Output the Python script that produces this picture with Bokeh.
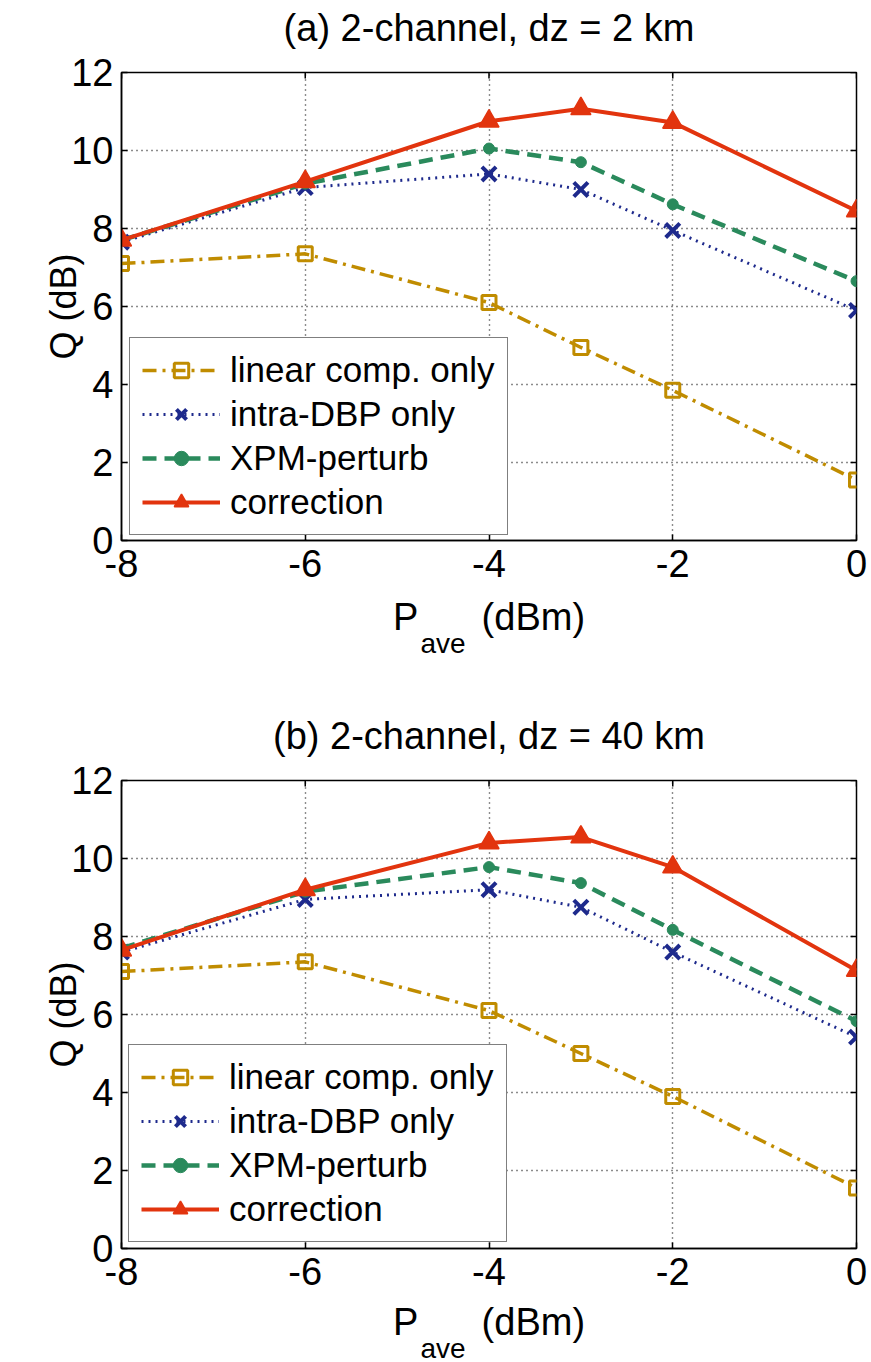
import math

from bokeh.plotting import figure
from bokeh.layouts import column
from bokeh.models import Range1d, FixedTicker, Legend, LegendItem, Title
from bokeh.embed import file_html
from bokeh.resources import INLINE

# launch power P_ave (dBm)
p_ave = [-8, -6, -4, -3, -2, 0]

# (a) 2-channel, dz = 2 km : Q (dB)
a_linear = [7.1, 7.35, 6.1, 4.95, 3.85, 1.55]
a_intra = [7.65, 9.05, 9.4, 9.0, 7.95, 5.9]
a_xpm = [7.7, 9.15, 10.05, 9.7, 8.62, 6.65]
a_corr = [7.7, 9.2, 10.75, 11.07, 10.72, 8.45]

# (b) 2-channel, dz = 40 km : Q (dB)
b_linear = [7.1, 7.35, 6.1, 5.0, 3.9, 1.55]
b_intra = [7.6, 8.95, 9.2, 8.75, 7.6, 5.42]
b_xpm = [7.7, 9.15, 9.78, 9.37, 8.17, 5.83]
b_corr = [7.65, 9.2, 10.4, 10.55, 9.78, 7.13]

x_ticks = [-8, -6, -4, -2, 0]
y_ticks = [0, 2, 4, 6, 8, 10, 12]

series_names = ["linear comp. only", "intra-DBP only", "XPM-perturb", "correction"]

FONT = "Liberation Sans"
GOLD = "#C08C00"
NAVY = "#1E2A8C"
GREEN = "#2A8A5C"
RED = "#E2340E"
NBSP = "\u00a0"


def text_title(text, size, standoff, align="center", offset=0):
    return Title(text=text, align=align, offset=offset, text_font=FONT,
                 text_font_size=size, text_font_style="normal",
                 text_color="black", standoff=standoff)


def make_panel(title, linear, intra, xpm, corr, height, border_bottom,
               legend_loc, xlabel_standoff):
    p = figure(width=871, height=height,
               x_range=Range1d(-8, 0), y_range=Range1d(0, 12),
               output_backend="svg", toolbar_location=None,
               title_location=None,
               min_border_left=121, min_border_right=15,
               min_border_top=72, min_border_bottom=border_bottom)
    # panel heading, lifted away from the box by a blank spacer line
    p.add_layout(text_title(NBSP, "10px", 11), "above")
    p.add_layout(text_title(title, "38px", 0), "above")

    p.background_fill_color = "white"
    p.border_fill_color = "white"
    p.outline_line_color = "black"
    p.outline_line_width = 1.5
    p.outline_line_alpha = 1

    for ax in (p.xaxis, p.yaxis):
        ax.major_label_text_font = FONT
        ax.major_label_text_font_size = "38px"
        ax.major_label_text_color = "black"
        ax.major_tick_in = 6
        ax.major_tick_out = 0
        ax.minor_tick_line_color = None
        ax.axis_line_color = "black"
        ax.axis_line_width = 1.5
        ax.major_tick_line_color = "black"
        ax.major_tick_line_width = 1.5
    p.xaxis.ticker = FixedTicker(ticks=x_ticks)
    p.yaxis.ticker = FixedTicker(ticks=y_ticks)
    p.xaxis.major_label_overrides = {t: str(t) for t in x_ticks}
    p.yaxis.major_label_overrides = {t: str(t) for t in y_ticks}
    p.xaxis.major_label_standoff = 9
    p.yaxis.major_label_standoff = 8

    # x-axis label P_ave (dBm): main text on the axis, subscript beneath it
    p.xaxis.axis_label = "P" + NBSP * 6 + "(dBm)"
    p.xaxis.axis_label_text_font = FONT
    p.xaxis.axis_label_text_font_size = "38px"
    p.xaxis.axis_label_text_font_style = "normal"
    p.xaxis.axis_label_text_color = "black"
    p.xaxis.axis_label_standoff = xlabel_standoff
    p.add_layout(text_title("ave", "28px", -30, align="left", offset=299), "below")

    # y-axis label
    p.add_layout(text_title("Q (dB)", "36px", -30), "left")

    for g in (p.xgrid, p.ygrid):
        g.grid_line_color = "black"
        g.grid_line_width = 1.4
        g.grid_line_dash = "1 4"
        g.grid_line_alpha = 0.9

    # inward tick marks along the right and top edges of the box
    p.scatter([0] * len(y_ticks), y_ticks, marker="dash", size=12,
              line_color="black", line_width=1.5)
    p.scatter(x_ticks, [12] * len(x_ticks), marker="dash", size=12,
              angle=math.pi / 2, line_color="black", line_width=1.5)

    l1 = p.line(p_ave, linear, line_color=GOLD, line_width=3.5, line_dash="14 6 3 6")
    s1 = p.scatter(p_ave, linear, marker="square", size=14, line_color=GOLD,
                   line_width=3, fill_alpha=0)
    l2 = p.line(p_ave, intra, line_color=NAVY, line_width=3, line_dash="2 5")
    s2 = p.scatter(p_ave, intra, marker="x", size=20, line_color=NAVY, line_width=4)
    l3 = p.line(p_ave, xpm, line_color=GREEN, line_width=4.5, line_dash="14 8")
    s3 = p.scatter(p_ave, xpm, marker="circle", size=11, line_color=GREEN,
                   fill_color=GREEN, line_width=1)
    l4 = p.line(p_ave, corr, line_color=RED, line_width=4)
    s4 = p.scatter(p_ave, corr, marker="triangle", size=20, line_color=RED,
                   fill_color=RED, line_width=1.5)

    legend = Legend(items=[
        LegendItem(label=series_names[0], renderers=[l1, s1]),
        LegendItem(label=series_names[1], renderers=[l2, s2]),
        LegendItem(label=series_names[2], renderers=[l3, s3]),
        LegendItem(label=series_names[3], renderers=[l4, s4]),
    ], location=legend_loc, margin=0, padding=12, spacing=4,
        glyph_width=78, glyph_height=36, label_standoff=10,
        label_text_font=FONT, label_text_font_size="35px",
        label_text_color="black",
        border_line_color="black", border_line_width=1.5,
        background_fill_color="white", background_fill_alpha=1)
    p.add_layout(legend, "center")
    return p


p1 = make_panel("(a) 2-channel, dz = 2 km", a_linear, a_intra, a_xpm, a_corr,
                708, 168, (8, 5), 16)
p2 = make_panel("(b) 2-channel, dz = 40 km", b_linear, b_intra, b_xpm, b_corr,
                654, 114, (7, 6), 13)

page = column(p1, p2, spacing=0)
open("out.html", "w").write(file_html(page, INLINE))
